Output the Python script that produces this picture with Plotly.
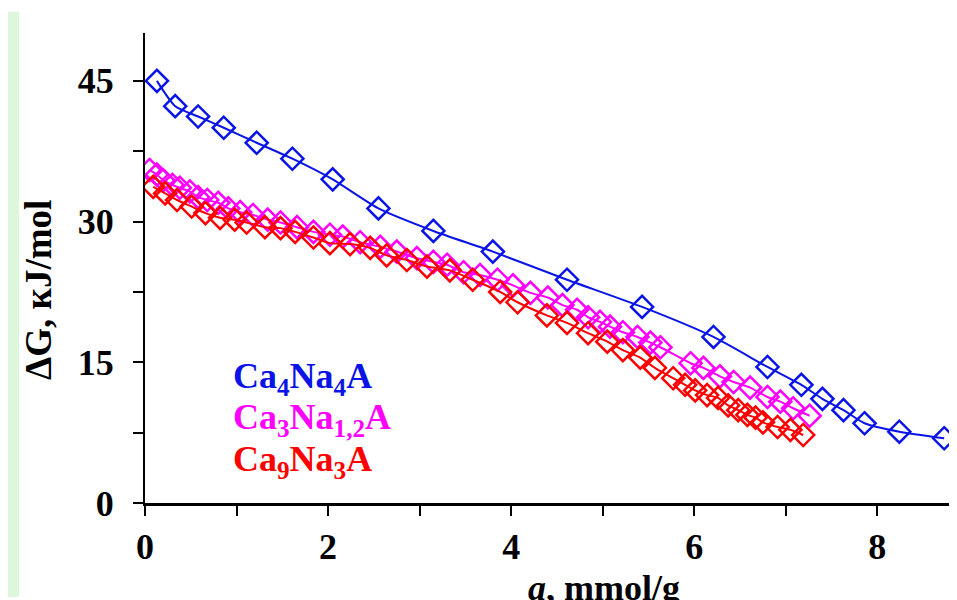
import plotly.graph_objects as go

# Ca4Na4A (blue)
x_blue = [0.13, 0.33, 0.58, 0.86, 1.22, 1.61, 2.05, 2.55, 3.15, 3.80, 4.61, 5.43,
          6.21, 6.80, 7.17, 7.40, 7.63, 7.86, 8.24, 8.73]
y_blue = [45.0, 42.3, 41.2, 40.0, 38.4, 36.7, 34.5, 31.4, 29.0, 26.8, 23.8, 20.9,
          17.7, 14.5, 12.6, 11.1, 9.9, 8.5, 7.6, 6.9]

# Ca3Na1,2A (magenta)
x_mag = [0.05, 0.13, 0.20, 0.30, 0.38, 0.49, 0.58, 0.68, 0.80, 0.91, 1.04, 1.18, 1.34,
         1.48, 1.66, 1.84, 2.02, 2.16, 2.35, 2.57, 2.75, 2.97, 3.15, 3.30, 3.48, 3.66,
         3.85, 4.02, 4.21, 4.40, 4.56, 4.72, 4.84, 4.97, 5.08, 5.22, 5.38, 5.52, 5.63,
         5.96, 6.10, 6.28, 6.43, 6.61, 6.80, 6.94, 7.08, 7.26]
y_mag = [35.5, 35.0, 34.4, 33.9, 33.6, 33.2, 32.6, 32.3, 32.0, 31.4, 31.0, 30.7, 30.2,
         29.9, 29.4, 28.9, 28.6, 28.4, 27.8, 27.3, 26.8, 26.1, 25.7, 25.4, 24.6, 24.3,
         23.8, 23.2, 22.4, 21.9, 21.1, 20.6, 19.8, 19.3, 18.8, 18.2, 17.7, 17.1, 16.6,
         14.9, 14.4, 13.5, 12.9, 12.3, 11.3, 10.8, 10.1, 9.3]

# Ca9Na3A (red)
x_red = [0.09, 0.22, 0.35, 0.51, 0.66, 0.82, 0.98, 1.11, 1.31, 1.48, 1.64, 1.84, 2.02,
         2.24, 2.46, 2.64, 2.86, 3.08, 3.33, 3.58, 3.88, 4.07, 4.39, 4.61, 4.84, 5.05,
         5.22, 5.41, 5.57, 5.77, 5.90, 6.01, 6.14, 6.26, 6.37, 6.48, 6.58, 6.67, 6.75,
         6.91, 7.05, 7.19]
y_red = [33.7, 33.0, 32.3, 31.6, 30.9, 30.4, 30.2, 29.9, 29.4, 29.3, 28.9, 28.3, 27.7,
         27.6, 27.2, 26.4, 25.9, 25.2, 24.8, 23.8, 22.5, 21.4, 20.0, 19.2, 18.1, 17.2,
         16.3, 15.5, 14.4, 13.3, 12.6, 12.0, 11.5, 11.2, 10.4, 9.9, 9.4, 9.1, 8.6,
         8.1, 7.8, 7.25]

x_ticks = [0, 2, 4, 6, 8]
y_ticks = [0, 15, 30, 45]

series = [
    ("Ca<sub>4</sub>Na<sub>4</sub>A", x_blue, y_blue, "#0A14E6"),
    ("Ca<sub>3</sub>Na<sub>1,2</sub>A", x_mag, y_mag, "#FF00FF"),
    ("Ca<sub>9</sub>Na<sub>3</sub>A", x_red, y_red, "#FF0000"),
]

FONT = "Liberation Serif"

fig = go.Figure()
for name, xs, ys, col in series:
    fig.add_trace(go.Scatter(
        x=xs, y=ys, mode="lines+markers", name=name,
        line=dict(color=col, width=2, shape="spline", smoothing=0.6),
        marker=dict(symbol="diamond-open", size=17, line=dict(color=col, width=2.5)),
        showlegend=False,
    ))

# legend-like labels
label_y = [13.3, 8.85, 4.4]
for (name, _, _, col), ly in zip(series, label_y):
    fig.add_annotation(x=0.94, y=ly, xref="x", yref="y", text="<b>" + name + "</b>",
                       showarrow=False, xanchor="left", yanchor="middle",
                       font=dict(family=FONT, size=36, color=col))

# axis titles
fig.add_annotation(x=0.565, y=-0.181, xref="paper", yref="paper",
                   text="<b><i>a</i>, mmol/g</b>", showarrow=False,
                   xanchor="center", yanchor="middle",
                   font=dict(family=FONT, size=36, color="black"))
fig.add_annotation(x=-0.132, y=0.453, xref="paper", yref="paper",
                   text="<b>ΔG, кJ/mol</b>", showarrow=False, textangle=-90,
                   xanchor="center", yanchor="middle",
                   font=dict(family=FONT, size=37, color="black"))

# faint background tint on left edge
fig.add_shape(type="rect", xref="paper", yref="paper", x0=-0.1687, x1=-0.155,
              y0=-0.2, y1=1.045, fillcolor="#DDF7DD", line=dict(width=0), layer="below")

# page body adds an 8px offset: size and margins compensate so the plot area
# sits at x 145..957 and y 33..503 in the window
fig.update_layout(
    width=949, height=592,
    margin=dict(l=137, r=0, t=25, b=97),
    paper_bgcolor="white", plot_bgcolor="white",
    font=dict(family=FONT, color="black"),
    xaxis=dict(range=[0, 8.87], tickvals=x_ticks, showgrid=False, zeroline=False,
               showline=True, linecolor="black", linewidth=3,
               ticks="outside", ticklen=10, tickwidth=2, tickcolor="black",
               ticklabelstandoff=0,
               tickfont=dict(family=FONT, size=36, color="black", weight="bold"),
               minor=dict(dtick=1, tick0=0, ticks="outside", ticklen=10, tickwidth=2,
                          tickcolor="black")),
    yaxis=dict(range=[0, 50.1], tickvals=y_ticks, showgrid=False, zeroline=False,
               showline=True, linecolor="black", linewidth=2,
               ticks="outside", ticklen=10, tickwidth=2, tickcolor="black",
               ticklabelstandoff=12,
               tickfont=dict(family=FONT, size=36, color="black", weight="bold"),
               minor=dict(dtick=7.5, tick0=0, ticks="outside", ticklen=10, tickwidth=2,
                          tickcolor="black")),
)

fig.write_html("out.html")
